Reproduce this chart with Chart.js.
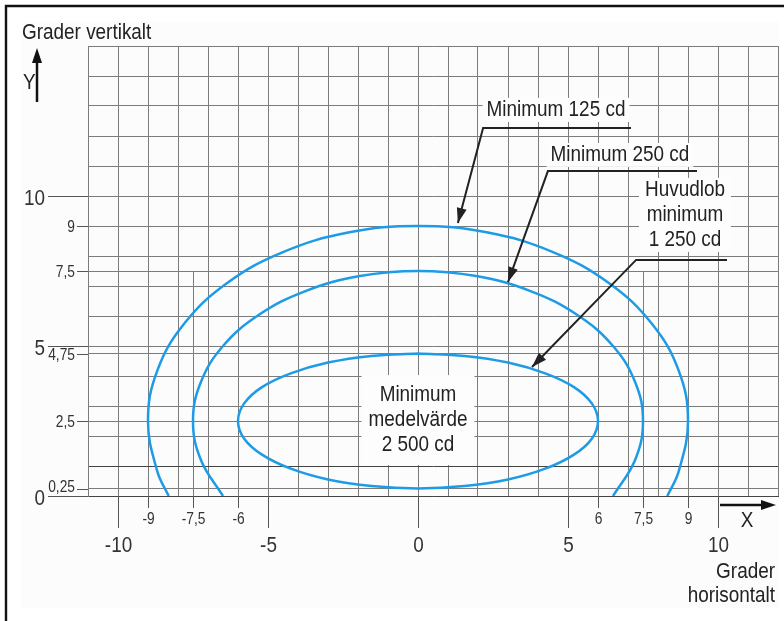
<!DOCTYPE html>
<html>
<head>
<meta charset="utf-8">
<script src="https://cdn.jsdelivr.net/npm/chart.js@4.4.1/dist/chart.umd.min.js"></script>
<style>
  html, body { margin: 0; padding: 0; background: #fff; }
  #wrap { position: relative; width: 784px; height: 621px; }
</style>
</head>
<body>
<div id="wrap"><canvas id="chart" width="784" height="621"></canvas></div>
<script>
// DATA (degrees)
// grid lines
const xGrid = [-11, -10, -9, -8, -7, -6, -5, -4, -3, -2, -1, 0, 1, 2, 3, 4, 5, 6, 7, 8, 9, 10, 11, 12];
const yGrid = [0, 0.25, 1, 2, 2.5, 3, 4, 4.75, 5, 6, 7, 7.5, 8, 9, 10, 11, 12, 13, 14, 15];
const xShortGrid = [-7.5, 7.5]; // only up to 7,5 vertically
// tick labels
const xMajorTicks = [-10, -5, 0, 5, 10];
const xMinorTicks = [-9, -7.5, -6, 6, 7.5, 9];
const yMajorTicks = [0, 5, 10];
const yMinorTicks = [0.25, 2.5, 4.75, 7.5, 9];

// Minimum 125 cd
const curve125X = [-8.31, -8.69, -9, -8.69, -7.79, -6.36, -4.5, -2.33, 0, 2.33, 4.5, 6.36, 7.79, 8.69, 9, 8.69, 8.31];
const curve125Y = [0, 0.82, 2.5, 4.18, 5.75, 7.1, 8.13, 8.78, 9, 8.78, 8.13, 7.1, 5.75, 4.18, 2.5, 0.82, 0];
// Minimum 250 cd
const curve250X = [-6.5, -7.24, -7.5, -7.24, -6.5, -5.3, -3.75, -1.94, 0, 1.94, 3.75, 5.3, 6.5, 7.24, 7.5, 7.24, 6.5];
const curve250Y = [0, 1.21, 2.5, 3.79, 5, 6.04, 6.83, 7.33, 7.5, 7.33, 6.83, 6.04, 5, 3.79, 2.5, 1.21, 0];
// Huvudlob minimum 1 250 cd
const curve1250X = [0, -1.55, -3, -4.24, -5.2, -5.8, -6, -5.8, -5.2, -4.24, -3, -1.55, 0,
  1.55, 3, 4.24, 5.2, 5.8, 6, 5.8, 5.2, 4.24, 3, 1.55, 0];
const curve1250Y = [4.75, 4.67, 4.45, 4.09, 3.63, 3.08, 2.5, 1.92, 1.38, 0.91, 0.55, 0.33, 0.25,
  0.33, 0.55, 0.91, 1.38, 1.92, 2.5, 3.08, 3.63, 4.09, 4.45, 4.67, 4.75];

const FONT = '"Liberation Sans", Arial, sans-serif';
const NARROW = 0.86; // condensed look
const BLUE = "#1e9be6";
const INK = "#222";
const GRID = "#7c7c7c";

// annotation labels, in degrees
const notes = [
  { lines: ["Minimum 125 cd"], x: 4.6, y: 12.87, padX: 4, padY: 12,
    leader: [[7.1, 12.27], [2.17, 12.27], [1.33, 9.1]] },
  { lines: ["Minimum 250 cd"], x: 6.73, y: 11.37, padX: 4, padY: 12,
    leader: [[9.3, 10.83], [4.33, 10.83], [3.0, 7.13]] },
  { lines: ["Huvudlob", "minimum", "1 250 cd"], x: 8.9, y: 9.37, padX: 6, padY: 12,
    leader: [[10.3, 7.87], [7.27, 7.87], [3.8, 4.3]] },
  { lines: ["Minimum", "medelvärde", "2 500 cd"], x: 0, y: 2.53, padX: 7, padY: 20,
    leader: null },
];

const toPoints = (xs, ys) => xs.map((x, i) => ({ x: x, y: ys[i] }));

function fmt(v) {
  return String(v).replace(".", ",");
}

// draw condensed text
function text(ctx, s, x, y, size, align) {
  ctx.save();
  ctx.font = size + "px " + FONT;
  ctx.textBaseline = "middle";
  ctx.textAlign = align || "center";
  ctx.translate(x, y);
  ctx.scale(NARROW, 1);
  ctx.fillText(s, 0, 0);
  ctx.restore();
}

function textWidth(ctx, s, size) {
  ctx.save();
  ctx.font = size + "px " + FONT;
  const w = ctx.measureText(s).width * NARROW;
  ctx.restore();
  return w;
}

function arrowHead(ctx, x0, y0, x1, y1) {
  const ang = Math.atan2(y1 - y0, x1 - x0);
  const len = 15, half = 5;
  ctx.beginPath();
  ctx.moveTo(x1, y1);
  ctx.lineTo(x1 - len * Math.cos(ang) + half * Math.sin(ang), y1 - len * Math.sin(ang) - half * Math.cos(ang));
  ctx.lineTo(x1 - len * Math.cos(ang) - half * Math.sin(ang), y1 - len * Math.sin(ang) + half * Math.cos(ang));
  ctx.closePath();
  ctx.fill();
}

const extras = {
  id: "extras",
  beforeDraw(chart) {
    const ctx = chart.ctx;
    ctx.save();
    ctx.fillStyle = "#fff";
    ctx.fillRect(0, 0, chart.width, chart.height);
    ctx.fillStyle = "#fcfcfc";
    ctx.fillRect(22, 22, 757, 586);
    // frame
    ctx.strokeStyle = "#111";
    ctx.lineWidth = 2.4;
    ctx.beginPath();
    ctx.moveTo(6, chart.height);
    ctx.lineTo(6, 6);
    ctx.lineTo(chart.width, 6);
    ctx.stroke();
    ctx.restore();
  },
  beforeDatasetsDraw(chart) {
    const ctx = chart.ctx;
    const sx = chart.scales.x, sy = chart.scales.y;
    ctx.save();
    // short grid lines at +-7,5
    ctx.strokeStyle = GRID;
    ctx.lineWidth = 1;
    xShortGrid.forEach(v => {
      const x = Math.round(sx.getPixelForValue(v)) + 0.5;
      ctx.beginPath();
      ctx.moveTo(x, sy.getPixelForValue(0));
      ctx.lineTo(x, sy.getPixelForValue(7.5));
      ctx.stroke();
    });
    // white boxes behind the labels
    notes.forEach(n => {
      const w = Math.max(...n.lines.map(l => textWidth(ctx, l, 22)));
      const cx = sx.getPixelForValue(n.x), cy = sy.getPixelForValue(n.y);
      const h = (n.lines.length - 1) * 25;
      ctx.fillStyle = "#fdfdfd";
      ctx.fillRect(cx - w / 2 - n.padX, cy - h / 2 - n.padY, w + 2 * n.padX, h + 2 * n.padY);
    });
    ctx.restore();
  },
  afterDraw(chart) {
    const ctx = chart.ctx;
    const sx = chart.scales.x, sy = chart.scales.y;
    const area = chart.chartArea;
    ctx.save();

    // label text and leaders
    ctx.fillStyle = INK;
    ctx.strokeStyle = INK;
    notes.forEach(n => {
      const cx = sx.getPixelForValue(n.x), cy = sy.getPixelForValue(n.y);
      const h = (n.lines.length - 1) * 25;
      n.lines.forEach((l, i) => text(ctx, l, cx, cy - h / 2 + i * 25, 22));
      if (n.leader) {
        const pts = n.leader.map(p => [sx.getPixelForValue(p[0]), sy.getPixelForValue(p[1])]);
        ctx.lineWidth = 2;
        ctx.beginPath();
        pts.forEach((p, i) => (i ? ctx.lineTo(p[0], p[1]) : ctx.moveTo(p[0], p[1])));
        ctx.stroke();
        const a = pts[pts.length - 2], b = pts[pts.length - 1];
        arrowHead(ctx, a[0], a[1], b[0], b[1]);
      }
    });

    // tick marks and labels
    ctx.strokeStyle = "#555";
    ctx.lineWidth = 1;
    ctx.fillStyle = "#333";
    const bottom = area.bottom, left = area.left;
    xMajorTicks.forEach(v => {
      const x = Math.round(sx.getPixelForValue(v)) + 0.5;
      ctx.beginPath(); ctx.moveTo(x, bottom); ctx.lineTo(x, bottom + 32); ctx.stroke();
      text(ctx, fmt(v), x, bottom + 50, 22);
    });
    xMinorTicks.forEach(v => {
      const x = Math.round(sx.getPixelForValue(v)) + 0.5;
      ctx.beginPath(); ctx.moveTo(x, bottom); ctx.lineTo(x, bottom + 12); ctx.stroke();
      text(ctx, fmt(v), x, bottom + 24, 16);
    });
    yMajorTicks.forEach(v => {
      const y = Math.round(sy.getPixelForValue(v)) + 0.5;
      ctx.beginPath(); ctx.moveTo(left - 40, y); ctx.lineTo(left, y); ctx.stroke();
      text(ctx, fmt(v), left - 43, y + 2, 22, "right");
    });
    yMinorTicks.forEach(v => {
      const y = Math.round(sy.getPixelForValue(v)) + 0.5;
      ctx.beginPath(); ctx.moveTo(left - 11, y); ctx.lineTo(left, y); ctx.stroke();
      text(ctx, fmt(v), left - 13, v === 0.25 ? y - 2 : y + 1, 16, "right");
    });

    // axis titles and arrows
    ctx.fillStyle = INK;
    text(ctx, "Grader vertikalt", 22, 33, 22, "left");
    text(ctx, "Y", 23, 83, 22, "left");
    text(ctx, "X", 747, 521, 22, "center");
    text(ctx, "Grader", 775, 572, 22, "right");
    text(ctx, "horisontalt", 775, 596, 22, "right");
    ctx.strokeStyle = "#111";
    ctx.fillStyle = "#111";
    ctx.lineWidth = 2.5;
    ctx.beginPath(); ctx.moveTo(37, 102); ctx.lineTo(37, 60); ctx.stroke();
    arrowHead(ctx, 37, 102, 37, 48);
    ctx.beginPath(); ctx.moveTo(720, 505); ctx.lineTo(764, 505); ctx.stroke();
    arrowHead(ctx, 720, 505, 776, 505);
    ctx.restore();
  }
};

function makeSet(label, xs, ys) {
  return {
    label: label,
    data: toPoints(xs, ys),
    showLine: true,
    borderColor: BLUE,
    borderWidth: 2.5,
    pointRadius: 0,
    tension: 0.4,
    fill: false,
  };
}

new Chart(document.getElementById("chart"), {
  type: "scatter",
  data: {
    datasets: [
      makeSet("Minimum 125 cd", curve125X, curve125Y),
      makeSet("Minimum 250 cd", curve250X, curve250Y),
      makeSet("Huvudlob minimum 1 250 cd", curve1250X, curve1250Y),
    ],
  },
  options: {
    responsive: false,
    devicePixelRatio: 1,
    animation: false,
    layout: { padding: { left: 88, top: 46, right: 6, bottom: 125 } },
    plugins: { legend: { display: false }, tooltip: { enabled: false } },
    scales: {
      x: {
        type: "linear",
        min: -11,
        max: 12,
        afterBuildTicks: s => { s.ticks = xGrid.map(v => ({ value: v })); },
        ticks: { display: false },
        grid: { color: GRID, lineWidth: 1, drawTicks: false },
        border: { color: "#444", width: 1 },
      },
      y: {
        type: "linear",
        min: 0,
        max: 15,
        afterBuildTicks: s => { s.ticks = yGrid.map(v => ({ value: v })); },
        ticks: { display: false },
        grid: {
          color: ctx => (ctx.tick && ctx.tick.value === 1 ? "#444" : GRID),
          lineWidth: 1,
          drawTicks: false,
        },
        border: { color: GRID, width: 1 },
      },
    },
  },
  plugins: [extras],
});
</script>
</body>
</html>
